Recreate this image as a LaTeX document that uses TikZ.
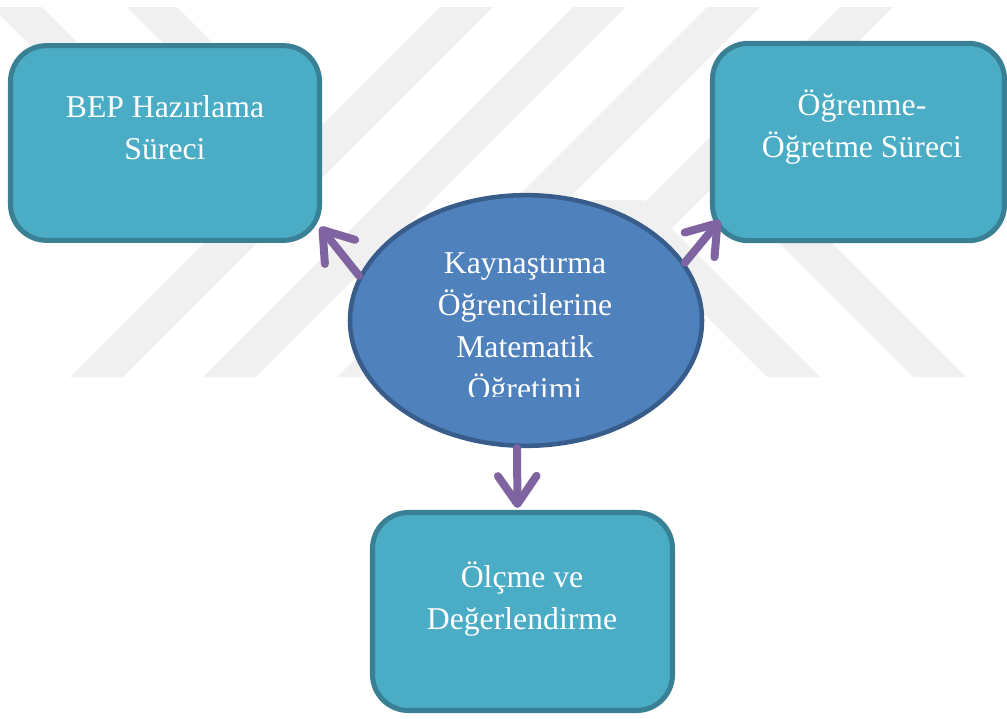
\documentclass[tikz,border=0pt]{standalone}
\usepackage{fontspec}
\setmainfont{Liberation Serif}
\usetikzlibrary{arrows.meta,shapes.geometric}
\definecolor{kutu}{RGB}{75,172,198}
\definecolor{kutucizgi}{RGB}{58,128,148}
\definecolor{elips}{RGB}{79,129,189}
\definecolor{elipscizgi}{RGB}{56,93,138}
\definecolor{ok}{RGB}{128,100,162}
\tikzset{
  kutu/.style={draw=kutucizgi,fill=kutu,line width=3.8pt,rounded corners=27pt,inner sep=0pt},
  yazi/.style={text=white,align=center,inner sep=0pt,font={\fontsize{23.8}{31.5}\selectfont}},
  okcizgi/.style={draw=ok,line width=6pt,line cap=round,-{Straight Barb[length=21pt,width=29pt,round]}},
  iz/.style={fill=gray!12}
}

\begin{document}
\begin{tikzpicture}[x=0.75pt,y=-0.75pt]
\useasboundingbox (0,0) rectangle (1007,718);
\foreach \a in {70,203,337,470} \fill[iz] (\a,377) -- ++(53,0) -- ++(370,-370) -- ++(-53,0) -- cycle;
\foreach \a in {-8,127} \fill[iz] (\a,7) -- ++(50,0) -- ++(120,120) -- ++(-50,0) -- cycle;
\foreach \a in {767,913} \fill[iz] (\a,377) -- ++(53,0) -- ++(-177,-177) -- ++(-53,0) -- cycle;

\node[kutu,minimum width=231.75pt,minimum height=146pt] (bep) at (165,143) {};
\node[yazi] (bepT) at (165,128) {BEP Hazırlama\\Süreci};
\node[kutu,minimum width=219pt,minimum height=148pt] (surec) at (858.5,142) {};
\node[yazi] (surecT) at (862,127) {Öğrenme-\\Öğretme Süreci};
\node[kutu,minimum width=225pt,minimum height=148.5pt] (olcme) at (522.5,611.5) {};
\node[yazi] (olcmeT) at (522,599) {Ölçme ve\\Değerlendirme};

\node[ellipse,draw=elipscizgi,fill=elips,line width=3.4pt,minimum width=264pt,minimum height=188pt,inner sep=0pt] (core) at (526,320.5) {};
\begin{scope}
\clip (340,190) rectangle (710,396);
\node[yazi] (coreT) at (525,330) {Kaynaştırma\\Öğrencilerine\\Matematik\\Öğretimi};
\end{scope}

\draw[okcizgi] (core.165) -- ([shift={(-2,-16)}]bep.south east);
\draw[okcizgi] (core.20) -- ([shift={(10,-23)}]surec.south west);
\draw[okcizgi] ([shift={(-9,0)}]core.south) -- ([shift={(-5,-2)}]olcme.north);
\end{tikzpicture}
\end{document}
